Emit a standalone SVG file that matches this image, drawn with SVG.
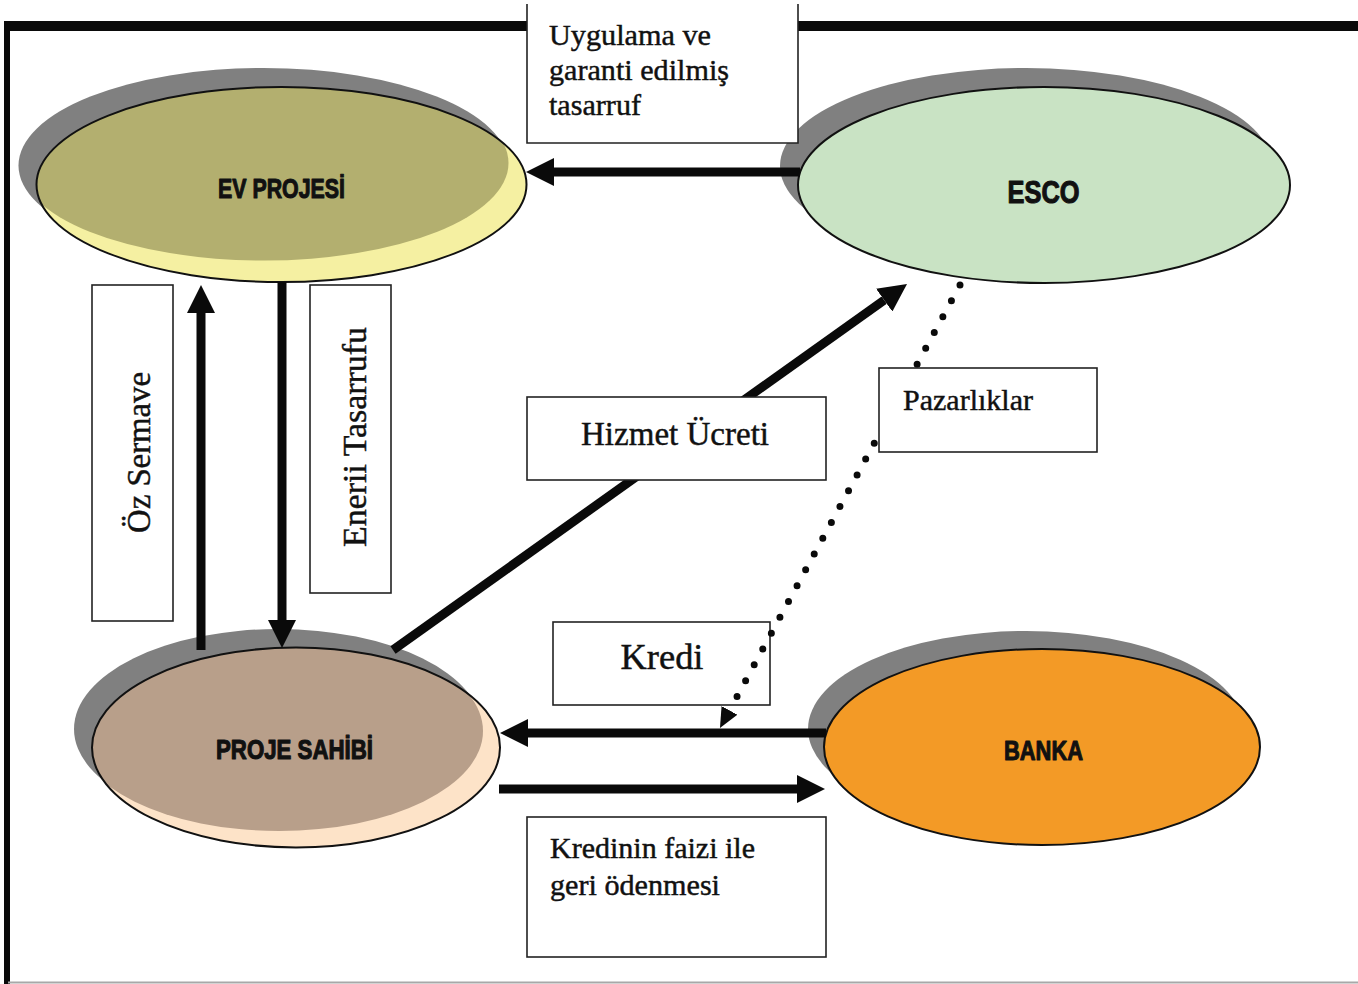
<svg xmlns="http://www.w3.org/2000/svg" width="1358" height="984" viewBox="0 0 1358 984">
  <style>
    .frame { fill: #0a0a0a; }
    .shadow { fill: #808080; }
    .outline { fill: none; stroke: #111; stroke-width: 2; }
    .node-label { font-family: "Liberation Sans Narrow", "Liberation Sans", Arial, sans-serif; font-weight: bold; fill: #111; stroke: #111; stroke-width: 1.1; stroke-linejoin: round; text-anchor: middle; }
    .box { fill: #fff; stroke: #222; stroke-width: 1.6; }
    .label { font-family: "Liberation Serif", "Times New Roman", serif; fill: #111; stroke: #111; stroke-width: 0.45; }
    .flow { stroke: #0a0a0a; stroke-width: 9; fill: none; marker-end: url(#arrow); }
    .dots { stroke: #0a0a0a; stroke-width: 7; stroke-linecap: round; stroke-dasharray: 0 18; fill: none; marker-end: url(#dotArrow); }
  </style>
  <defs>
    <marker id="arrow" markerUnits="userSpaceOnUse" markerWidth="28" markerHeight="28" viewBox="0 0 28 28" refX="0" refY="14" orient="auto">
      <path d="M0,0 L28,14 L0,28 z" fill="#0a0a0a"/>
    </marker>
    <marker id="dotArrow" markerUnits="userSpaceOnUse" markerWidth="20" markerHeight="18" viewBox="0 0 20 18" refX="0" refY="9" orient="auto">
      <path d="M0,0 L20,9 L0,18 z" fill="#0a0a0a"/>
    </marker>
    <clipPath id="clipEv"><ellipse cx="281.5" cy="184.5" rx="245" ry="97.5"/></clipPath>
    <clipPath id="clipOwner"><ellipse cx="296" cy="747.5" rx="204" ry="100"/></clipPath>
  </defs>

  <rect width="1358" height="984" fill="#fff"/>

  <!-- page frame -->
  <g id="frame">
    <rect class="frame" x="4" y="21" width="1354" height="10"/>
    <rect class="frame" x="4" y="21" width="6" height="963"/>
    <line x1="8" y1="982.5" x2="1358" y2="982.5" stroke="#a8a8a8" stroke-width="2"/>
  </g>

  <!-- nodes -->
  <g id="node-ev-projesi">
    <ellipse class="shadow" cx="263.5" cy="165.5" rx="245" ry="97.5"/>
    <ellipse cx="281.5" cy="184.5" rx="245" ry="97.5" fill="#f5f0a2"/>
    <ellipse cx="263.5" cy="163" rx="245" ry="97.5" fill="#b3af6f" clip-path="url(#clipEv)"/>
    <ellipse class="outline" cx="281.5" cy="184.5" rx="245" ry="97.5"/>
    <text class="node-label" x="281.5" y="198" font-size="28" textLength="127" lengthAdjust="spacingAndGlyphs">EV PROJESİ</text>
  </g>

  <g id="node-esco">
    <ellipse class="shadow" cx="1026" cy="166" rx="246" ry="98"/>
    <ellipse cx="1044" cy="185" rx="246" ry="98" fill="#c9e3c4"/>
    <ellipse class="outline" cx="1044" cy="185" rx="246" ry="98"/>
    <text class="node-label" x="1043.5" y="203" font-size="32" textLength="72" lengthAdjust="spacingAndGlyphs">ESCO</text>
  </g>

  <g id="node-proje-sahibi">
    <ellipse class="shadow" cx="278" cy="729" rx="204" ry="100"/>
    <ellipse cx="296" cy="747.5" rx="204" ry="100" fill="#fde3c8"/>
    <ellipse cx="279" cy="731" rx="204" ry="100" fill="#b89f8a" clip-path="url(#clipOwner)"/>
    <ellipse class="outline" cx="296" cy="747.5" rx="204" ry="100"/>
    <text class="node-label" x="294.5" y="759" font-size="27" textLength="157" lengthAdjust="spacingAndGlyphs">PROJE SAHİBİ</text>
  </g>

  <g id="node-banka">
    <ellipse class="shadow" cx="1026" cy="729" rx="218" ry="98"/>
    <ellipse cx="1042" cy="747" rx="218" ry="98" fill="#f39a26"/>
    <ellipse class="outline" cx="1042" cy="747" rx="218" ry="98"/>
    <text class="node-label" x="1043.5" y="760" font-size="28" textLength="79" lengthAdjust="spacingAndGlyphs">BANKA</text>
  </g>

  <!-- label boxes that sit beneath the connectors -->
  <g id="label-kredi">
    <rect class="box" x="553" y="622" width="217" height="83"/>
    <text class="label" x="662" y="669" font-size="36" text-anchor="middle" textLength="83" lengthAdjust="spacingAndGlyphs">Kredi</text>
  </g>

  <!-- connectors -->
  <g id="connectors">
    <line class="flow" x1="800" y1="172" x2="554" y2="172"/>
    <line class="flow" x1="201" y1="650" x2="201" y2="313"/>
    <line class="flow" x1="282" y1="282" x2="282" y2="620"/>
    <line class="flow" x1="393" y1="650" x2="884.2" y2="300.2"/>
    <line class="flow" x1="826" y1="733" x2="528" y2="733"/>
    <line class="flow" x1="499" y1="789" x2="797" y2="789"/>
    <line class="dots" x1="960" y1="285" x2="729.5" y2="710.4"/>
  </g>

  <!-- label boxes drawn over the connectors -->
  <g id="label-uygulama">
    <path d="M527,4 V143 H798 V4 z" fill="#fff" stroke="none"/>
    <path d="M527,4 V143 H798 V4" fill="none" stroke="#222" stroke-width="1.6"/>
    <text class="label" x="549" y="45" font-size="30" textLength="162" lengthAdjust="spacingAndGlyphs">Uygulama ve</text>
    <text class="label" x="549" y="80" font-size="30" textLength="180" lengthAdjust="spacingAndGlyphs">garanti edilmiş</text>
    <text class="label" x="549" y="115" font-size="30" textLength="92" lengthAdjust="spacingAndGlyphs">tasarruf</text>
  </g>

  <g id="label-oz-sermave">
    <rect class="box" x="92" y="285" width="81" height="336"/>
    <text class="label" transform="translate(150 452.5) rotate(-90)" font-size="33" text-anchor="middle" textLength="161" lengthAdjust="spacingAndGlyphs">Öz Sermave</text>
  </g>

  <g id="label-enerji">
    <rect class="box" x="310" y="285" width="81" height="308"/>
    <text class="label" transform="translate(366 437) rotate(-90)" font-size="33" text-anchor="middle" textLength="220" lengthAdjust="spacingAndGlyphs">Enerii Tasarrufu</text>
  </g>

  <g id="label-hizmet">
    <rect class="box" x="527" y="397" width="299" height="83"/>
    <text class="label" x="675" y="445" font-size="33" text-anchor="middle" textLength="188" lengthAdjust="spacingAndGlyphs">Hizmet Ücreti</text>
  </g>

  <g id="label-pazarliklar">
    <rect class="box" x="879" y="368" width="218" height="84"/>
    <text class="label" x="903" y="410" font-size="30" textLength="130" lengthAdjust="spacingAndGlyphs">Pazarlıklar</text>
  </g>

  <g id="label-geri-odeme">
    <rect class="box" x="527" y="817" width="299" height="140"/>
    <text class="label" x="550" y="858" font-size="29" textLength="205" lengthAdjust="spacingAndGlyphs">Kredinin faizi ile</text>
    <text class="label" x="550" y="895" font-size="29" textLength="170" lengthAdjust="spacingAndGlyphs">geri ödenmesi</text>
  </g>
</svg>
